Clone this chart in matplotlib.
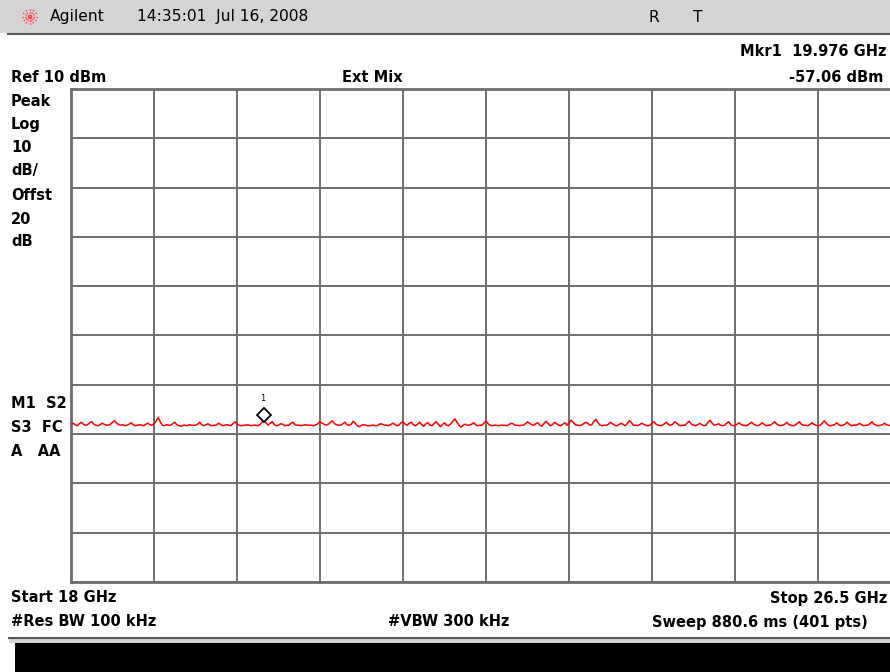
import numpy as np
import matplotlib
matplotlib.use("Agg")
import matplotlib.pyplot as plt
from matplotlib.patches import Rectangle

plt.rcParams['font.family'] = ['DejaVu Sans']

# sweep settings
start_ghz = 18.0
stop_ghz = 26.5
ref_dbm = 10
db_per_div = 10
n_pts = 401
mkr_ghz = 19.976
mkr_dbm = -57.06

# trace values (dBm), 401 points
trace_dbm = [
    -58.0, -57.8, -58.1, -58.3, -57.9, -57.6, -58.0, -58.2, -58.1, -57.7, -57.5, -58.0, -58.2, -58.3, -58.1, -57.8, -58.0, -58.2, -58.2, -58.0,
    -57.6, -57.3, -57.8, -58.1, -58.2, -58.1, -58.3, -58.2, -58.0, -57.7, -58.1, -58.3, -58.2, -58.1, -58.2, -58.3, -58.0, -57.8, -58.1, -58.2,
    -57.9, -57.4, -56.6, -57.5, -58.2, -58.3, -58.1, -58.2, -58.2, -57.9, -57.6, -58.1, -58.3, -58.4, -58.2, -58.2, -58.3, -58.1, -58.2, -58.2,
    -58.2, -58.0, -57.6, -58.1, -58.3, -58.1, -57.9, -58.2, -58.3, -58.2, -58.2, -57.8, -58.0, -58.3, -58.2, -58.1, -58.2, -58.3, -57.9, -57.5,
    -58.0, -58.2, -58.3, -58.2, -58.2, -58.1, -58.2, -58.3, -58.2, -58.2, -58.3, -58.1, -57.6, -57.06, -57.7, -58.2, -57.8, -57.5, -58.1, -58.3,
    -58.2, -57.9, -58.0, -58.3, -58.2, -58.2, -57.8, -57.6, -58.1, -58.2, -58.2, -58.3, -58.2, -58.1, -58.2, -58.2, -58.2, -58.3, -58.1, -57.9,
    -57.5, -57.8, -58.0, -58.2, -58.0, -57.6, -57.3, -57.9, -58.1, -58.2, -58.2, -57.9, -57.6, -58.1, -58.2, -58.0, -57.4, -57.8, -58.3, -58.5,
    -58.2, -58.1, -58.2, -58.3, -58.3, -58.2, -58.2, -58.3, -58.2, -57.9, -58.0, -58.2, -58.2, -58.3, -58.1, -57.8, -58.0, -58.3, -58.2, -57.7,
    -57.5, -58.0, -58.2, -57.8, -57.6, -58.1, -58.3, -58.0, -57.6, -58.1, -58.4, -57.9, -57.7, -58.2, -58.3, -57.8, -57.5, -58.0, -58.5, -58.1,
    -57.7, -58.2, -58.3, -57.9, -57.4, -56.9, -57.6, -58.2, -58.6, -58.2, -58.0, -58.2, -58.2, -58.0, -57.7, -58.1, -58.3, -58.2, -58.2, -57.8,
    -57.3, -57.9, -58.2, -58.3, -58.2, -58.2, -58.3, -58.2, -58.2, -58.2, -58.3, -58.1, -57.8, -57.9, -58.2, -58.2, -58.3, -58.2, -58.2, -57.9,
    -57.5, -57.8, -58.1, -58.2, -57.9, -57.7, -58.2, -58.4, -57.8, -57.4, -57.9, -58.3, -58.1, -57.6, -57.9, -58.2, -58.3, -58.0, -57.7, -58.2,
    -57.8, -57.2, -57.6, -58.1, -58.2, -58.3, -58.2, -57.9, -57.6, -57.8, -58.2, -58.1, -57.4, -57.0, -57.7, -58.2, -58.3, -58.2, -58.2, -58.0,
    -57.6, -57.9, -58.2, -58.3, -58.1, -57.8, -58.0, -58.3, -57.9, -57.3, -57.6, -58.2, -58.2, -58.3, -58.1, -57.8, -58.0, -58.2, -58.3, -58.2,
    -57.8, -57.5, -58.0, -58.2, -58.3, -58.2, -57.9, -57.6, -58.1, -58.2, -58.0, -57.5, -57.8, -58.2, -58.3, -58.2, -58.2, -57.7, -57.4, -58.0,
    -58.2, -58.3, -58.1, -57.8, -58.1, -58.3, -58.2, -57.6, -57.2, -57.8, -58.2, -58.1, -57.9, -58.2, -58.3, -58.2, -57.8, -57.5, -58.1, -58.3,
    -58.2, -58.0, -57.7, -58.1, -58.2, -58.3, -58.2, -57.9, -57.6, -58.0, -58.2, -58.3, -58.1, -57.7, -58.0, -58.3, -58.2, -58.2, -57.9, -57.5,
    -57.9, -58.2, -58.3, -58.2, -58.0, -57.6, -58.1, -58.2, -58.3, -58.2, -57.8, -57.5, -58.0, -58.2, -58.2, -58.3, -58.1, -57.7, -58.0, -58.2,
    -58.3, -58.2, -57.8, -57.3, -57.8, -58.2, -58.3, -58.2, -58.1, -57.7, -58.1, -58.3, -58.2, -58.0, -57.6, -58.0, -58.3, -58.2, -58.2, -58.1,
    -57.8, -58.1, -58.3, -58.2, -58.2, -57.9, -57.5, -58.0, -58.2, -58.3, -58.2, -58.1, -57.8, -58.1, -58.2, -58.3, -58.2, -57.9, -57.6, -58.0,
    -58.2,
]

left_labels = ["Peak", "Log", "10", "dB/", "Offst", "20", "dB"]
left_y = [101, 124, 148, 171, 196, 219, 242]
status_labels = ["M1  S2", "S3  FC", "A   AA"]
status_y = [404, 428, 451]

W, H = 890, 672
fig = plt.figure(figsize=(W / 100, H / 100), dpi=100)
fig.patch.set_facecolor("white")

# overlay axes in pixel coordinates for the screen furniture
ov = fig.add_axes([0, 0, 1, 1], zorder=0)
ov.set_xlim(0, W)
ov.set_ylim(H, 0)
ov.axis("off")

# graticule: 10 x 10 divisions, right edge runs off the screen
px_l, px_t, px_b = 71, 89, 582
px_w = 830
ax = fig.add_axes([px_l / W, (H - px_b) / H, px_w / W, (px_b - px_t) / H], zorder=1)
ax.set_facecolor("white")
freqs = np.linspace(start_ghz, stop_ghz, n_pts)
ax.plot(freqs, trace_dbm, color="#ff0000", lw=1.1, zorder=3)
ax.set_xlim(start_ghz, stop_ghz)
ax.set_ylim(ref_dbm - 10 * db_per_div, ref_dbm)
ax.set_xticks(np.linspace(start_ghz, stop_ghz, 11))
ax.set_yticks(np.arange(ref_dbm - 10 * db_per_div, ref_dbm + 1, db_per_div))
ax.grid(True, color="#6e6e6e", lw=1.4)
ax.tick_params(length=0, labelbottom=False, labelleft=False)
for s in ax.spines.values():
    s.set_color("#6e6e6e")
    s.set_linewidth(2.0)

# marker 1
ax.plot([mkr_ghz], [mkr_dbm + 1.0], marker="D", ms=7, mfc="white", mec="black",
        mew=1.3, zorder=4)
ax.text(mkr_ghz, mkr_dbm + 4.2, "1", fontsize=6, ha="center", va="center",
        family="DejaVu Sans Mono")

# header bar
ov.add_patch(Rectangle((0, 0), W, 33, facecolor="#d4d4d4", edgecolor="none"))
ov.plot([8, W], [33.5, 33.5], color="#5a5a5a", lw=1.5)
# starburst logo
for a in np.linspace(0, np.pi, 6, endpoint=False):
    dx, dy = 8 * np.cos(a), 8 * np.sin(a)
    ov.plot([30 - dx, 30 + dx], [17 - dy, 17 + dy], color="#ff3b3b", lw=1.0, ls=(0, (1, 1)))
hdr = dict(fontsize=11.2, va="center", color="black")
ov.text(50, 17, "Agilent", **hdr)
ov.text(137, 17, "14:35:01  Jul 16, 2008", **hdr)
ov.text(648, 17, "R", **hdr)
ov.text(693, 17, "T", **hdr)

bold = dict(fontsize=10.5, fontweight="bold", va="center", color="black")
ov.text(887, 51, "Mkr1  19.976 GHz", ha="right", **bold)
ov.text(883, 77, "-57.06 dBm", ha="right", **bold)
ov.text(11, 77, "Ref 10 dBm", **bold)
ov.text(342, 77, "Ext Mix", **bold)
for lab, y in zip(left_labels, left_y):
    ov.text(11, y, lab, **bold)
for lab, y in zip(status_labels, status_y):
    ov.text(11, y, lab, **bold)
ov.text(11, 598, "Start 18 GHz", **bold)
ov.text(887, 598, "Stop 26.5 GHz", ha="right", **bold)
ov.text(11, 622, "#Res BW 100 kHz", **bold)
ov.text(388, 622, "#VBW 300 kHz", **bold)
ov.text(868, 622, "Sweep 880.6 ms (401 pts)", ha="right", **bold)

# bottom message bar
ov.add_patch(Rectangle((9, 637), W, 6, facecolor="#d4d4d4", edgecolor="none"))
ov.plot([9, W], [637.5, 637.5], color="#5a5a5a", lw=1.5)
ov.add_patch(Rectangle((15, 643), W, H - 643, facecolor="black", edgecolor="none"))

fig.savefig("out.png", dpi=100)
